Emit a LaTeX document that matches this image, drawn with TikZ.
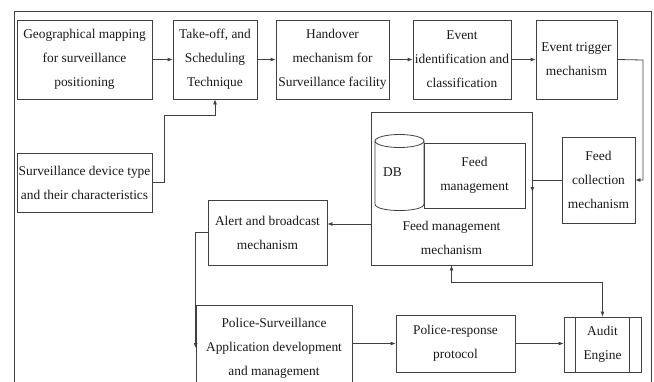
\documentclass[tikz,border=0pt]{standalone}
\usepackage{fontspec}
\setmainfont{Liberation Serif}
\usetikzlibrary{arrows.meta,calc}
\begin{document}
\begin{tikzpicture}[x=1pt,y=-1pt,
 box/.style={draw=black!75, line width=0.8pt, align=center, inner sep=0pt, text=black!90, font=\fontsize{13.4}{24}\selectfont},
 lbl/.style={align=center, inner sep=0pt, text=black!90, font=\fontsize{13.4}{24}\selectfont},
 conn/.style={draw=black!75, line width=0.8pt},
 arr/.style={conn, -{Latex[length=5pt,width=4pt]}},
 darr/.style={conn, {Latex[length=5pt,width=4pt]}-{Latex[length=5pt,width=4pt]}}]
\useasboundingbox (0,0) rectangle (654,381);
\clip (0,0) rectangle (654,381);
\draw[conn] (14,11) rectangle (651,400);
% top row
\node[box, minimum width=135pt, minimum height=79pt] (geo) at (84.5,59.5) {Geographical mapping\\for surveillance\\positioning};
\node[box, minimum width=84pt, minimum height=79pt] (take) at (215,59.5) {Take-off, and\\Scheduling\\Technique};
\node[box, minimum width=113pt, minimum height=79pt] (hand) at (332.5,59.5) {Handover\\mechanism for\\Surveillance facility};
\node[box, minimum width=98pt, minimum height=79pt] (event) at (462,59.5) {Event\\identification and\\classification};
\node[box, minimum width=81pt, minimum height=79pt] (trig) at (576.5,59.5) {Event trigger\\mechanism};
% left
\node[box, minimum width=135pt, minimum height=59pt] (surv) at (84.5,182.5) {Surveillance device type\\and their characteristics};
% feed management mechanism
\node[box, minimum width=161pt, minimum height=153pt] (fmm) at (451.5,188.5) {};
\node[lbl] (fmmtxt) at (451.5,237.5) {Feed management\\mechanism};
\draw[conn] (399.5,141) ellipse [x radius=24.5, y radius=6.5];
\draw[conn] (375,141) -- (375,204) .. controls (375,212.7) and (424,212.7) .. (424,204) -- (424,141);
\node[lbl] (db) at (392.5,172) {DB};
\node[box, minimum width=101pt, minimum height=65pt] (fm) at (474.5,175.5) {Feed\\management};
\node[box, minimum width=73pt, minimum height=86pt] (fc) at (598.5,180) {Feed\\collection\\mechanism};
\node[box, minimum width=119pt, minimum height=65pt] (alert) at (267.5,232.5) {Alert and broadcast\\mechanism};
% bottom row
\node[box, minimum width=156pt, minimum height=86pt] (police) at (274,348) {Police-Surveillance\\Application development\\and management};
\node[box, minimum width=119pt, minimum height=57pt] (presp) at (455.5,343.5) {Police-response\\protocol};
\node[box, minimum width=77pt, minimum height=55pt] (audit) at (602.5,344.5) {Audit\\Engine};
\draw[conn] ($(audit.north west)+(12,0)$) -- ($(audit.south west)+(12,0)$);
\draw[conn] ($(audit.north east)+(-12,0)$) -- ($(audit.south east)+(-12,0)$);
% coordinates
\coordinate (c1) at (164,115);
\coordinate (c2) at (643,60);
\coordinate (c3) at (371,224);
% connectors
\draw[arr] (geo) -- (take);
\draw[arr] (take) -- (hand);
\draw[arr] (hand) -- (event);
\draw[arr] (event) -- (trig);
\draw[arr] (trig.east) -- (c2) |- (fc.east);
\draw[arr] (surv.east) -| (c1) -| (take.south);
\draw[conn] (fc.west) -- (fc.west -| fmm.east);
\draw[arr] (fc.west -| fmm.east) -- ++(0,12);
\draw[arr] (c3) -- (c3 -| alert.east);
\draw[arr] (alert.west) -| (police.west);
\draw[arr] (presp.west -| police.east) -- (presp.west);
\draw[arr] (presp.east) -- (presp.east -| audit.west);
\draw[darr] (fmm.south) -- ++(0,17) -| (audit.north);
\end{tikzpicture}
\end{document}
